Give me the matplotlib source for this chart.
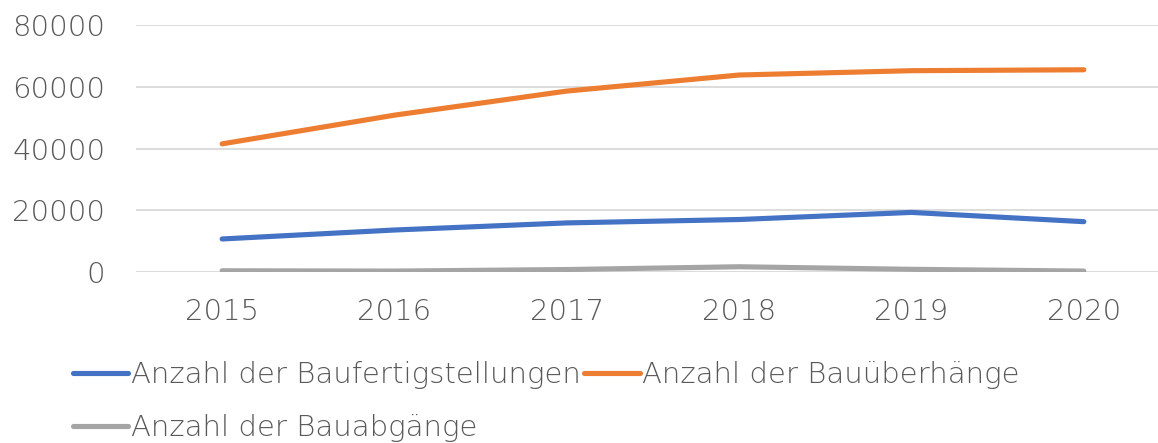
import numpy as np
import matplotlib.pyplot as plt

years = ['2015', '2016', '2017', '2018', '2019', '2020']
fertig = [10700, 13600, 15900, 17000, 19300, 16300]
ueberhang = [41500, 50800, 58600, 63800, 65200, 65500]
abgang = [400, 300, 800, 1700, 870, 300]

plt.rcParams['font.family'] = ['DejaVu Sans']
plt.rcParams['font.weight'] = 'light'
txt = '#595959'
fs = 21

fig = plt.figure(figsize=(11.58, 4.43), dpi=100)
ax = fig.add_axes([136 / 1158, 1 - 272 / 443, 1034 / 1158, 247 / 443])

x = np.arange(len(years))
h1, = ax.plot(x, fertig, color='#4472C4', lw=3.7, solid_capstyle='round', label='Anzahl der Baufertigstellungen')
h2, = ax.plot(x, ueberhang, color='#ED7D31', lw=3.7, solid_capstyle='round', label='Anzahl der Bauüberhänge')
h3, = ax.plot(x, abgang, color='#A5A5A5', lw=3.7, solid_capstyle='round', label='Anzahl der Bauabgänge')

ax.set_xlim(-0.5, 5.5)
ax.set_ylim(0, 80000)
ax.set_yticks([0, 20000, 40000, 60000, 80000])
ax.set_xticks(x)
ax.set_xticklabels(years)
ax.yaxis.grid(True, color='#D9D9D9', lw=1.3)
ax.set_axisbelow(True)
for s in ax.spines.values():
    s.set_visible(False)
ax.tick_params(axis='both', length=0, labelsize=fs, labelcolor=txt)
ax.tick_params(axis='y', pad=22)
ax.tick_params(axis='x', pad=19)

# column-major fill: col 1 = fertig, abgang ; col 2 = ueberhang
fig.legend([h1, h3, h2], [h1.get_label(), h3.get_label(), h2.get_label()],
           loc='upper left', bbox_to_anchor=(73 / 1158, 1 - 361 / 443), ncol=2, frameon=False,
           fontsize=fs, handlelength=1.9, handletextpad=0.1, columnspacing=0.1,
           labelspacing=0.85, borderpad=0, borderaxespad=0, labelcolor=txt)

fig.savefig('out.png', dpi=100)
